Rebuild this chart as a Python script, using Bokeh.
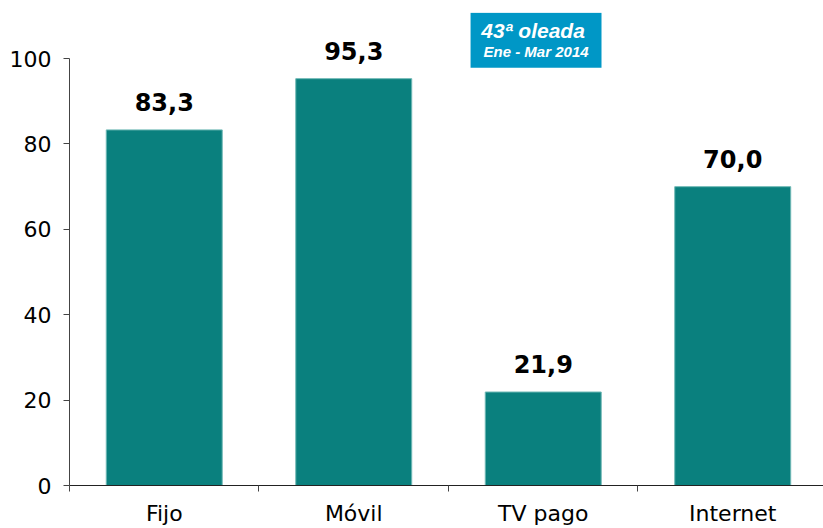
from bokeh.plotting import figure
from bokeh.models import ColumnDataSource, FixedTicker, Range1d, Label
from bokeh.core.properties import value
from bokeh.embed import file_html
from bokeh.resources import INLINE

categories = ["Fijo", "Móvil", "TV pago", "Internet"]
values = [83.3, 95.3, 21.9, 70.0]
value_labels = ["83,3", "95,3", "21,9", "70,0"]
y_ticks = [0, 20, 40, 60, 80, 100]

xs = [i + 0.5 for i in range(len(categories))]
src = ColumnDataSource(dict(x=xs, top=values, lab=value_labels))

p = figure(width=823, height=528, output_backend="svg", toolbar_location=None,
           x_range=Range1d(0, 3.979), y_range=Range1d(0, 110.8),
           min_border_left=69, min_border_right=0, min_border_top=12, min_border_bottom=43)
p.outline_line_color = None
p.xgrid.visible = False
p.ygrid.visible = False
p.background_fill_color = "white"
p.border_fill_color = "white"

p.vbar(x="x", top="top", bottom=0, width=0.612, source=src,
       fill_color="#0A807E", line_color="#6FB8B5", line_width=1)

p.text(x="x", y="top", text="lab", source=src, text_align="center",
       text_baseline="bottom", y_offset=-19,
       text_font=value("DejaVu Sans"), text_font_style="bold",
       text_font_size="24px", text_color="black")

# y axis
p.yaxis.ticker = FixedTicker(ticks=y_ticks)
p.yaxis.bounds = (0, 100)
p.yaxis.major_tick_out = 6
p.yaxis.major_tick_in = 0
p.yaxis.minor_tick_out = 0
p.yaxis.minor_tick_in = 0
p.yaxis.major_label_standoff = 12
p.yaxis.axis_line_color = "#444444"
p.yaxis.major_tick_line_color = "#444444"
p.yaxis.major_label_text_font = "DejaVu Sans"
p.yaxis.major_label_text_font_size = "22px"
p.yaxis.major_label_text_color = "black"

# x axis
p.xaxis.ticker = FixedTicker(ticks=xs, minor_ticks=list(range(len(categories) + 1)))
p.xaxis.major_label_overrides = {x: c for x, c in zip(xs, categories)}
p.xaxis.major_tick_out = 0
p.xaxis.major_tick_in = 0
p.xaxis.minor_tick_out = 6
p.xaxis.minor_tick_in = 0
p.xaxis.major_label_standoff = 9
p.xaxis.axis_line_color = "#222222"
p.xaxis.minor_tick_line_color = "#444444"
p.xaxis.major_label_text_font = "DejaVu Sans"
p.xaxis.major_label_text_font_size = "22px"
p.xaxis.major_label_text_color = "black"

# badge
bx, by = 2.462, 104.3
p.rect(x=bx, y=by, width=0.691, height=12.9, fill_color="#0097C6", line_color=None)
p.add_layout(Label(x=bx, y=106.7, text="43ª  oleada", text_align="center",
                   text_baseline="middle", text_font="Liberation Sans",
                   text_font_style="bold italic", text_font_size="21px", text_color="white"))
p.add_layout(Label(x=bx, y=101.6, text="Ene - Mar 2014", text_align="center",
                   text_baseline="middle", text_font="Liberation Sans",
                   text_font_style="bold italic", text_font_size="15px", text_color="white"))

open("out.html", "w").write(file_html(p, INLINE))
